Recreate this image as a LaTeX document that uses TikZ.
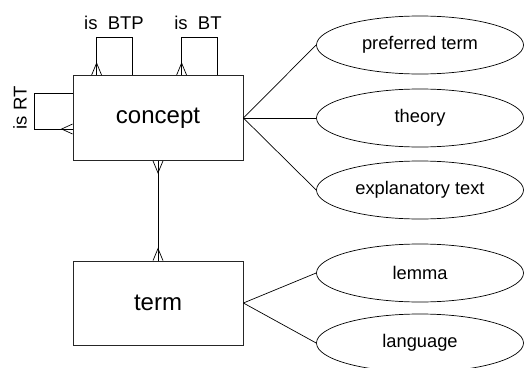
\documentclass[tikz,border=0pt]{standalone}
\usepackage{fontspec}
\setmainfont{Liberation Sans}
\usetikzlibrary{shapes.geometric}
\tikzset{
  ent/.style={draw=black!85, line width=0.8pt, minimum width=170pt, minimum height=85pt, inner sep=0pt, font=\fontsize{24}{27}\selectfont},
  attr/.style={draw=black, line width=0.7pt, ellipse, minimum width=207pt, minimum height=58pt, inner sep=0pt, font=\fontsize{18.3}{21}\selectfont},
  rel/.style={line width=0.7pt, black},
  lbl/.style={font=\fontsize{18.5}{21}\selectfont, inner sep=0pt}
}
\begin{document}
\begin{tikzpicture}[x=1pt,y=-1pt]
\useasboundingbox (0,0) rectangle (525,367);
\clip (0,0) rectangle (525,367);
\node[ent] (concept) at (158,118) {concept};
\node[ent, minimum height=84pt] (term) at (158,303) {term};
\node[attr] (pref) at (420,45) {preferred term};
\node[attr] (theory) at (420,118) {theory};
\node[attr] (expl) at (420,190) {explanatory text};
\node[attr] (lemma) at (420,273) {lemma};
\node[attr] (lang) at (420,343) {language};
\coordinate (cfan) at (concept.east);
\coordinate (tfan) at (term.east);
\draw[rel] (cfan) -- (pref.west);
\draw[rel] (cfan) -- (theory.west);
\draw[rel] (cfan) -- (expl.west);
\draw[rel] (tfan) -- (lemma.west);
\draw[rel] (tfan) -- (lang.west);
% concept - term
\draw[rel] (concept.south) -- (term.north);
\draw[rel] ([xshift=-5pt]concept.south) -- ++(5,12) -- ++(5,-12);
\draw[rel] ([xshift=-5pt]term.north) -- ++(5,-12) -- ++(5,12);
% is BTP loop
\draw[rel] ([xshift=24pt]concept.north west) -- ++(0,-37.5) -| ([xshift=60pt]concept.north west);
\draw[rel] ([xshift=19pt]concept.north west) -- ++(5,-12) -- ++(5,12);
\node[lbl] (btp) at (114,23) {is\ \ BTP};
% is BT loop
\draw[rel] ([xshift=109pt]concept.north west) -- ++(0,-37.5) -| ([xshift=145pt]concept.north west);
\draw[rel] ([xshift=104pt]concept.north west) -- ++(5,-12) -- ++(5,12);
\node[lbl] (bt) at (198,23) {is\ \ BT};
% is RT loop
\draw[rel] ([yshift=25pt]concept.west) -- ++(-38,0) |- ([yshift=-11pt]concept.west);
\draw[rel] ([yshift=-6pt]concept.west) -- ++(-11,5) -- ++(11,5);
\node[lbl, rotate=90] (rt) at (20,108) {is\ RT};
\end{tikzpicture}
\end{document}
